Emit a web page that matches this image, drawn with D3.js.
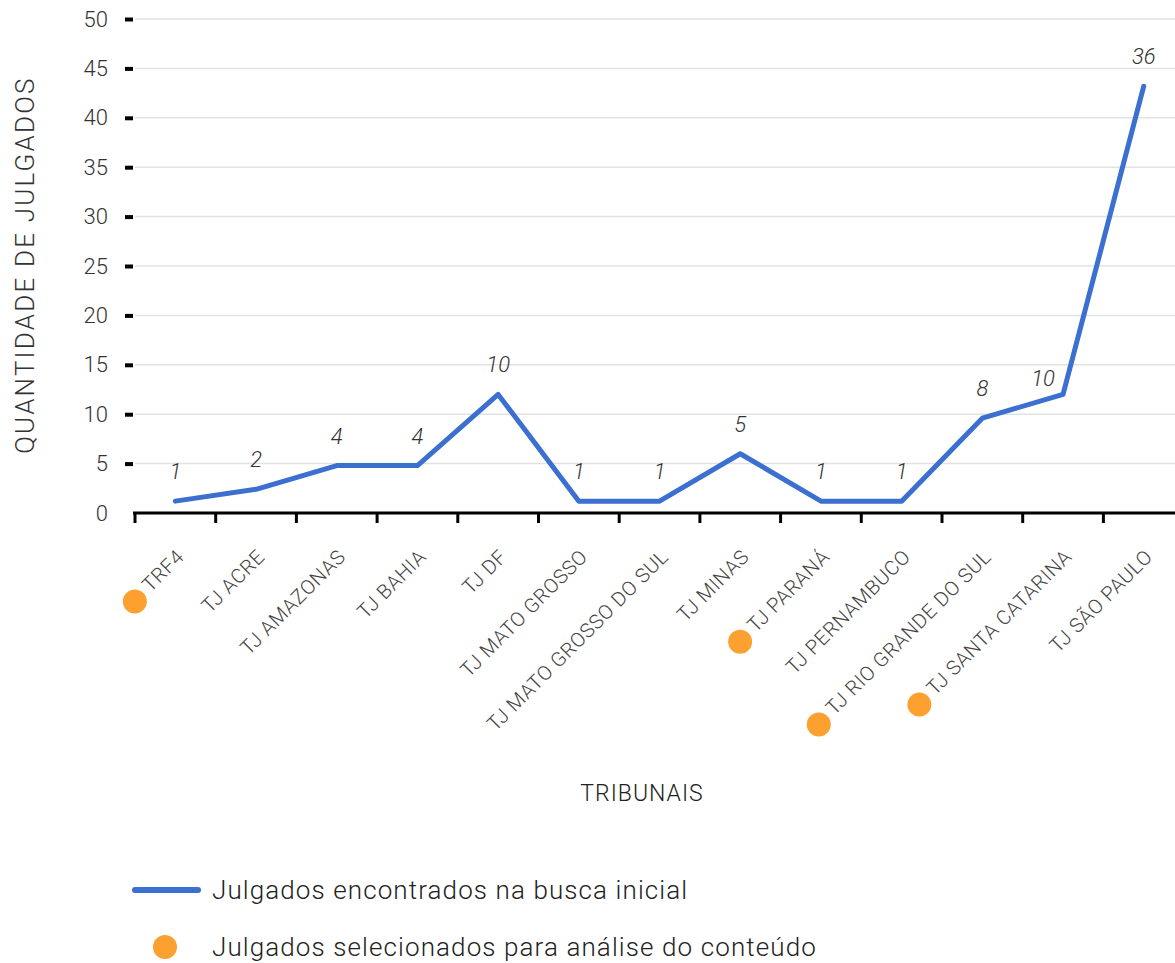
<!DOCTYPE html>
<html><head><meta charset="utf-8">
<script src="https://cdn.jsdelivr.net/npm/d3@7"></script>
<style>
html,body{margin:0;padding:0;background:#fff;}
svg{display:block;font-family:Roboto,"Noto Sans",sans-serif;}
</style></head>
<body>
<svg id="chart" width="1175" height="963"></svg>
<script>
const categories = ["TRF4","TJ ACRE","TJ AMAZONAS","TJ BAHIA","TJ DF","TJ MATO GROSSO","TJ MATO GROSSO DO SUL","TJ MINAS","TJ PARANÁ","TJ PERNAMBUCO","TJ RIO GRANDE DO SUL","TJ SANTA CATARINA","TJ SÃO PAULO"];
// plotted heights as drawn against the y axis
const plotted = [1.2,2.4,4.8,4.8,12,1.2,1.2,6,1.2,1.2,9.6,12,43.2];
// value labels printed above the line
const valueLabels = [1,2,4,4,10,1,1,5,1,1,8,10,36];
// selected for content analysis (orange dot)
const selected = [true,false,false,false,false,false,false,false,true,false,true,true,false];
const yTicks = [0,5,10,15,20,25,30,35,40,45,50];
const seriesNames = ["Julgados encontrados na busca inicial","Julgados selecionados para análise do conteúdo"];
const yTitle = "QUANTIDADE DE JULGADOS";
const xTitle = "TRIBUNAIS";

const BLUE = "#3b6fd0", ORANGE = "#fca02f";
const svg = d3.select("#chart");

const x = d3.scaleBand().domain(categories).range([135, 135 + 80.7*13]).padding(0);
const y = d3.scaleLinear().domain([0,50]).range([513, 19]);

// gridlines
svg.append("g").selectAll("line").data(yTicks.filter(d=>d>0)).join("line")
  .attr("x1",135).attr("x2",1175).attr("y1",d=>y(d)).attr("y2",d=>y(d))
  .attr("stroke","#e2e2e2").attr("stroke-width",1.5);

// y axis
const yAxis = svg.append("g").attr("transform","translate(133,0)")
  .call(d3.axisLeft(y).tickValues(yTicks).tickSize(8).tickPadding(17));
yAxis.select(".domain").remove();
yAxis.selectAll(".tick line").attr("stroke","#000").attr("stroke-width",4).attr("x2",-0).attr("x1",-8);
yAxis.selectAll(".tick").filter(d=>d===0).select("line").remove();
yAxis.selectAll(".tick text").attr("font-size",22).attr("fill","#333").attr("font-family","Roboto").attr("font-weight",300);

// x axis
const xAxis = svg.append("g").attr("transform","translate(0,513)");
xAxis.append("line").attr("x1",133).attr("x2",1175).attr("stroke","#000").attr("stroke-width",3);
xAxis.selectAll("line.tk").data(categories).join("line").attr("class","tk")
  .attr("x1",d=>x(d)).attr("x2",d=>x(d)).attr("y1",0).attr("y2",10)
  .attr("stroke","#000").attr("stroke-width",3);

// x labels + dots
const lab = svg.append("g").selectAll("g").data(categories).join("g")
  .attr("transform",d=>`translate(${x(d)+x.bandwidth()/2+10},558) rotate(-45)`);
lab.append("text").text(d=>d).attr("text-anchor","end")
  .attr("font-size",20).attr("letter-spacing",0.6).attr("font-weight",300).attr("fill","#444");
lab.each(function(d,i){
  if(!selected[i]) return;
  const g = d3.select(this);
  const len = g.select("text").node().getComputedTextLength();
  g.append("circle").attr("cx",-(len+17)).attr("cy",-5).attr("r",12).attr("fill",ORANGE);
});

// line
const pts = categories.map((c,i)=>({c, v:plotted[i], l:valueLabels[i]}));
svg.append("path").datum(pts)
  .attr("d", d3.line().x(d=>x(d.c)+x.bandwidth()/2).y(d=>y(d.v)))
  .attr("fill","none").attr("stroke",BLUE).attr("stroke-width",5)
  .attr("stroke-linejoin","round").attr("stroke-linecap","round");

// value labels
svg.append("g").selectAll("text").data(pts).join("text")
  .attr("x",(d,i)=>x(d.c)+x.bandwidth()/2 + (i===11?-20:0))
  .attr("y",(d,i)=>y(d.v) - (i===11?16:30) + 8)
  .attr("text-anchor","middle").attr("font-size",22).attr("font-style","italic").attr("font-weight",300)
  .attr("fill","#333").text(d=>d.l);

// axis titles
svg.append("text").attr("transform","translate(34,265) rotate(-90)")
  .attr("text-anchor","middle").attr("font-size",26).attr("font-weight",300)
  .attr("letter-spacing",2.2).attr("fill","#333").text(yTitle);
svg.append("text").attr("x",642).attr("y",801).attr("text-anchor","middle")
  .attr("font-size",23).attr("letter-spacing",1).attr("font-weight",300).attr("fill","#222").text(xTitle);

// legend
const lg = svg.append("g");
lg.append("line").attr("x1",135).attr("x2",198).attr("y1",890).attr("y2",890)
  .attr("stroke",BLUE).attr("stroke-width",6).attr("stroke-linecap","round");
lg.append("text").attr("x",212).attr("y",899).attr("font-size",26).attr("letter-spacing",1.1).attr("font-weight",300).attr("fill","#222").text(seriesNames[0]);
lg.append("circle").attr("cx",165).attr("cy",947).attr("r",12).attr("fill",ORANGE);
lg.append("text").attr("x",212).attr("y",956).attr("font-size",26).attr("letter-spacing",1.1).attr("font-weight",300).attr("fill","#222").text(seriesNames[1]);
</script>
</body></html>
